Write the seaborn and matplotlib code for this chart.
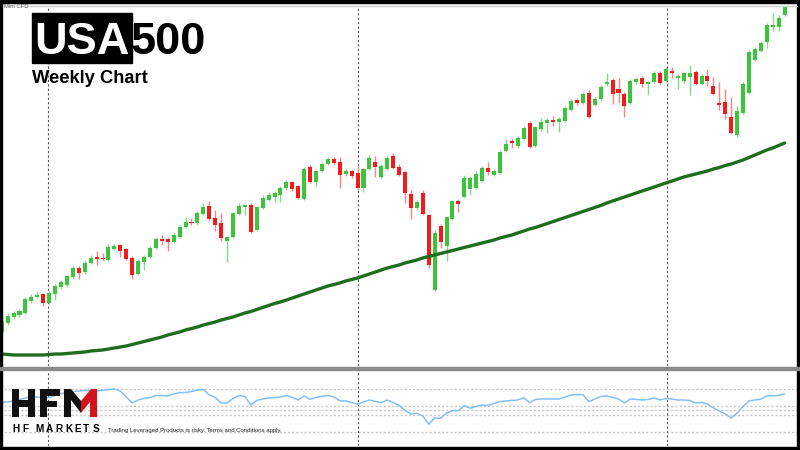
import matplotlib
matplotlib.use("Agg")
import matplotlib.pyplot as plt
from matplotlib.patches import Rectangle, Polygon
import seaborn as sns
import numpy as np
import pandas as pd

# weekly OHLC (index points)
opens = [1280, 1370, 1430, 1450, 1470, 1590, 1630, 1660, 1570, 1660,
         1730, 1750, 1830, 1920, 1880, 1970, 2030, 2020, 2000, 2110,
         2150, 2110, 2020, 1860, 1980, 2030, 2120, 2210, 2210, 2180,
         2230, 2330, 2380, 2370, 2460, 2540, 2420, 2370, 2190, 2230,
         2460, 2530, 2550, 2300, 2520, 2600, 2630, 2650, 2720, 2780,
         2740, 2610, 2930, 2780, 2890, 2960, 3010, 2980, 2860, 2890,
         2870, 2720, 2910, 2980, 2830, 2910, 3040, 2930, 2880, 2660,
         2520, 2670, 2450, 1700, 2340, 2140, 2410, 2590, 2630, 2710,
         2720, 2790, 2920, 2850, 2870, 3090, 3190, 3140, 3210, 3370,
         3140, 3310, 3370, 3400, 3380, 3390, 3500, 3600, 3570, 3670,
         3550, 3610, 3760, 3800, 3710, 3660, 3570, 3780, 3820, 3760,
         3780, 3870, 3790, 3890, 3820, 3790, 3830, 3880, 3760, 3840,
         3740, 3570, 3580, 3430, 3250, 3470, 3670, 4000, 4090, 4180,
         4330, 4330, 4450]
closes = [1390, 1440, 1470, 1490, 1610, 1630, 1650, 1570, 1670, 1740,
          1780, 1840, 1920, 1870, 1970, 2020, 2010, 2010, 2130, 2140,
          2090, 2010, 1850, 1990, 2030, 2120, 2210, 2190, 2180, 2250,
          2330, 2380, 2370, 2470, 2530, 2410, 2350, 2220, 2230, 2470,
          2540, 2550, 2280, 2530, 2620, 2650, 2670, 2720, 2780, 2710,
          2620, 2910, 2780, 2890, 2960, 3010, 2970, 2850, 2890, 2840,
          2720, 2910, 3020, 2930, 2940, 3020, 2920, 2850, 2670, 2520,
          2580, 2460, 1950, 2270, 2180, 2430, 2590, 2560, 2820, 2820,
          2860, 2920, 2880, 2890, 3080, 3160, 3170, 3220, 3320, 3130,
          3330, 3380, 3400, 3380, 3410, 3520, 3590, 3570, 3660, 3430,
          3610, 3730, 3780, 3660, 3670, 3540, 3790, 3810, 3760, 3780,
          3870, 3770, 3910, 3870, 3840, 3870, 3870, 3760, 3840, 3790,
          3660, 3550, 3460, 3270, 3490, 3760, 4080, 4110, 4170, 4350,
          4350, 4420, 4530]
highs = [1420, 1470, 1490, 1510, 1630, 1660, 1680, 1670, 1690, 1760,
         1800, 1850, 1940, 1940, 1990, 2050, 2090, 2070, 2160, 2160,
         2160, 2120, 2040, 2010, 2050, 2140, 2230, 2250, 2230, 2280,
         2350, 2430, 2420, 2490, 2570, 2590, 2500, 2470, 2240, 2480,
         2570, 2560, 2570, 2540, 2650, 2680, 2690, 2740, 2800, 2790,
         2750, 2930, 2950, 2900, 2980, 3030, 3030, 3030, 2920, 2900,
         2940, 2920, 3050, 3040, 2960, 3040, 3070, 2960, 2890, 2700,
         2600, 2700, 2460, 2300, 2360, 2440, 2600, 2610, 2850, 2840,
         2890, 2940, 2980, 2910, 3100, 3210, 3210, 3240, 3340, 3390,
         3340, 3420, 3420, 3440, 3430, 3540, 3610, 3620, 3680, 3700,
         3630, 3750, 3870, 3820, 3820, 3680, 3810, 3830, 3840, 3790,
         3890, 3890, 3930, 3930, 3860, 3880, 3950, 3900, 3860, 3910,
         3830, 3780, 3710, 3630, 3540, 3780, 4100, 4130, 4190, 4370,
         4470, 4450, 4550]
lows = [1260, 1350, 1410, 1430, 1460, 1570, 1620, 1540, 1560, 1600,
        1710, 1730, 1810, 1810, 1860, 1960, 1950, 2000, 1990, 2100,
        2030, 2000, 1810, 1850, 1900, 2020, 2110, 2150, 2090, 2170,
        2220, 2320, 2350, 2350, 2450, 2400, 2290, 2190, 1980, 2220,
        2450, 2450, 2270, 2290, 2510, 2590, 2580, 2580, 2700, 2690,
        2610, 2600, 2770, 2740, 2880, 2950, 2960, 2720, 2840, 2820,
        2700, 2680, 2900, 2830, 2820, 2900, 2910, 2840, 2570, 2410,
        2500, 2450, 1920, 1690, 2120, 1990, 2400, 2480, 2620, 2650,
        2710, 2780, 2850, 2840, 2860, 3080, 3120, 3120, 3200, 3120,
        3130, 3290, 3270, 3340, 3280, 3380, 3490, 3550, 3560, 3420,
        3540, 3600, 3740, 3560, 3570, 3430, 3560, 3760, 3730, 3650,
        3770, 3760, 3780, 3820, 3710, 3770, 3650, 3750, 3750, 3740,
        3650, 3500, 3410, 3260, 3230, 3460, 3660, 3990, 4080, 4120,
        4290, 4290, 4440]

# long moving average (green line)
ma = [1060, 1055, 1050, 1050, 1050, 1050, 1050, 1050, 1055, 1060,
      1060, 1065, 1070, 1075, 1080, 1090, 1095, 1100, 1110, 1120,
      1130, 1140, 1155, 1170, 1185, 1200, 1215, 1230, 1250, 1265,
      1280, 1300, 1315, 1330, 1350, 1365, 1380, 1400, 1415, 1430,
      1450, 1470, 1485, 1505, 1525, 1545, 1565, 1580, 1600, 1620,
      1640, 1660, 1680, 1700, 1720, 1740, 1755, 1770, 1790, 1805,
      1820, 1840, 1860, 1880, 1900, 1920, 1935, 1950, 1970, 1985,
      2000, 2020, 2035, 2050, 2065, 2080, 2095, 2110, 2125, 2140,
      2155, 2170, 2185, 2200, 2220, 2235, 2250, 2270, 2290, 2310,
      2325, 2345, 2365, 2385, 2405, 2425, 2445, 2465, 2485, 2505,
      2525, 2545, 2570, 2590, 2610, 2630, 2650, 2670, 2690, 2710,
      2730, 2750, 2770, 2790, 2810, 2830, 2845, 2860, 2875, 2890,
      2910, 2925, 2945, 2960, 2980, 3000, 3025, 3050, 3075, 3100,
      3120, 3145, 3170]

# oscillator in the lower panel
osc = [64.3, 64.9, 66.0, 67.8, 69.5, 70.7, 70.7, 70.1, 70.1, 72.4,
       74.8, 75.9, 77.1, 77.7, 78.3, 78.3, 77.7, 78.3, 79.4, 80.0,
       77.7, 70.7, 63.7, 67.2, 69.0, 70.1, 72.4, 72.4, 71.9, 74.2,
       75.7, 75.9, 77.1, 78.8, 79.4, 73.0, 70.1, 63.7, 63.7, 69.0,
       72.4, 71.3, 61.4, 66.6, 68.4, 69.5, 70.1, 70.7, 72.4, 70.1,
       67.2, 71.9, 68.0, 70.1, 71.5, 72.4, 70.7, 66.4, 66.1, 64.3,
       62.2, 64.9, 67.2, 65.5, 64.1, 67.2, 64.3, 60.8, 55.0, 50.9,
       51.7, 48.6, 39.0, 46.3, 45.9, 52.1, 54.8, 54.8, 60.6, 57.6,
       59.7, 61.4, 60.8, 63.1, 65.2, 66.1, 66.6, 67.2, 69.9, 64.1,
       67.8, 68.4, 68.4, 68.4, 68.4, 70.7, 73.0, 73.4, 73.4, 65.2,
       68.4, 71.3, 71.9, 70.1, 68.4, 63.7, 68.4, 67.8, 67.2, 67.8,
       69.5, 67.2, 69.0, 68.4, 67.2, 67.2, 66.6, 63.7, 64.3, 62.6,
       57.9, 54.4, 50.9, 46.3, 52.1, 59.7, 66.1, 67.2, 68.1, 71.9,
       72.1, 72.4, 74.5]
osc_levels = [80, 60, 56, 50, 30]
year_marks = [7.8, 60.1, 112.2]

sns.set_theme(style="white")
plt.rcParams["font.family"] = ["Liberation Sans", "DejaVu Sans"]

df = pd.DataFrame({"week": np.arange(len(closes)), "open": opens, "high": highs,
                   "low": lows, "close": closes, "ma": ma, "osc": osc})

fig = plt.figure(figsize=(8, 4.5), dpi=100)
ax = fig.add_axes([0, 84 / 450, 1, 360 / 450])
ax2 = fig.add_axes([0, 4 / 450, 1, 75 / 450])

up = df["close"] >= df["open"]
body_col = np.where(up, "#3cc43c", "#f21a1a")
wick_col = np.where(up, "#86da86", "#f88484")
ax.vlines(df["week"], df["low"], df["high"], colors=wick_col, lw=1, zorder=2)
ax.bar(df["week"], (df["close"] - df["open"]).abs().clip(lower=12),
       bottom=np.minimum(df["open"], df["close"]), width=0.68,
       color=body_col, linewidth=0, zorder=3)
sns.lineplot(data=df, x="week", y="ma", ax=ax, color="#1f6e1f", lw=2.4,
             estimator=None, zorder=4)

sns.lineplot(data=df, x="week", y="osc", ax=ax2, color="#84bff5", lw=1.1,
             estimator=None, zorder=3)
for lv in osc_levels:
    ax2.axhline(lv, color="#c6c6c6", lw=1, ls=(0, (1.5, 1.5)), zorder=1)

for a in (ax, ax2):
    for xm in year_marks:
        a.axvline(xm, color="#555555", lw=0.8, ls=(0, (2, 2)), zorder=1)
    a.set_xlim(-0.287, 134.6)
    a.set_axis_off()
ax.set_ylim(940, 4540)
ax2.set_ylim(13.7, 100.9)

# frame, titles and logo in pixel coordinates
ov = fig.add_axes([0, 0, 1, 1])
ov.set_xlim(0, 800)
ov.set_ylim(450, 0)
ov.set_axis_off()
ov.patch.set_alpha(0)

ov.add_patch(Rectangle((0, 0), 800, 3, color="black"))
ov.add_patch(Rectangle((0, 447), 800, 3, color="black"))
ov.add_patch(Rectangle((0, 0), 1.6, 450, color="black"))
ov.add_patch(Rectangle((796.8, 0), 2.0, 450, color="black"))
ov.add_patch(Rectangle((0, 366.8), 800, 3.2, color="#8a8a8a"))
ov.plot([30, 797], [5.5, 5.5], color="#cfcfcf", lw=1)
ov.text(4, 8, "Mini CFD", fontsize=4.2, color="#444444", va="baseline")

ov.add_patch(Rectangle((32, 13), 100, 50, color="black"))
ov.text(34, 53.5, "USA", color="white", fontsize=32.5, fontweight="bold", va="baseline")
ov.text(131, 53.5, "500", color="black", fontsize=32.5, fontweight="bold", va="baseline")
ov.text(32, 83.3, "Weekly Chart", color="black", fontsize=13.2, fontweight="bold", va="baseline")

# HFM logo mark (block letters)
logo_black = "#111111"
for r in [(12, 389, 7, 28), (28, 389, 7, 28), (12, 400, 23, 6.5),
          (40, 389, 7, 28), (40, 389, 20, 6.5), (40, 400.5, 17, 6.5)]:
    ov.add_patch(Rectangle((r[0], r[1]), r[2], r[3], color=logo_black, lw=0))
ov.add_patch(Polygon([(64, 389), (71, 389), (81, 401), (81, 413), (71, 400),
                      (71, 417), (64, 417)], color=logo_black, lw=0))
ov.add_patch(Polygon([(81, 401), (91, 389), (97, 389), (97, 417), (90, 417),
                      (90, 402), (81, 413)], color="#d4141c", lw=0))
letter_x = [12, 22, 35, 45.5, 55.5, 65, 74, 83, 92.5]
for lx, ch in zip(letter_x, "HFMARKETS"):
    ov.text(lx, 431.5, ch, fontsize=7.2, fontweight="bold",
            color="black", va="baseline")
ov.text(108, 432, "Trading Leveraged Products is risky. Terms and Conditions apply.",
        fontsize=4.3, color="#222222", va="baseline")

fig.savefig("out.png", dpi=100)
